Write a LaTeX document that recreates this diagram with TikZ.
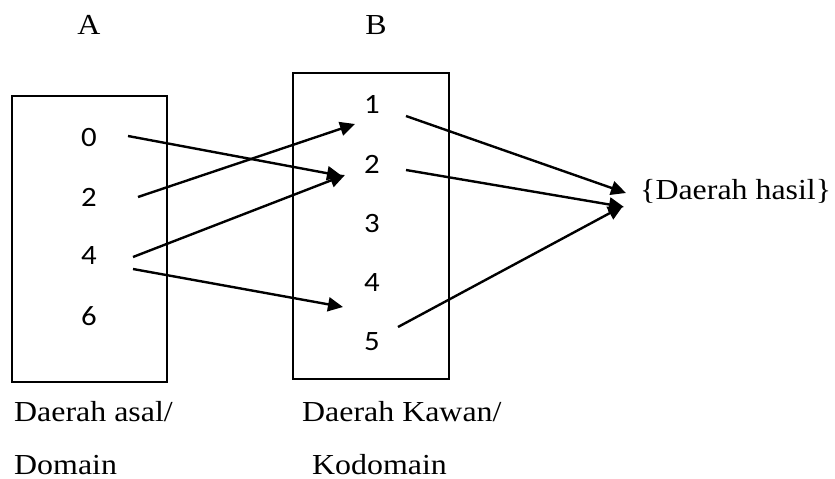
\documentclass[tikz,border=0pt]{standalone}
\usepackage{fontspec}
\setmainfont{Liberation Serif}
\newfontfamily\numfont{Carlito}
\usetikzlibrary{arrows.meta}
\newcommand{\wider}[1]{\scalebox{1.1}[1]{#1}}
\begin{document}
\begin{tikzpicture}[x=1pt,y=-1pt,
  setbox/.style={draw,line width=2.3pt},
  num/.style={font=\numfont\fontsize{28}{32}\selectfont,inner sep=0pt},
  lab/.style={font=\fontsize{29}{34}\selectfont,inner sep=0pt},
  arr/.style={line width=2.4pt,-{Triangle[length=15pt,width=14pt]}}]
\useasboundingbox[fill=white] (0,0) rectangle (835,479);
% boxes
\draw[setbox] (12,96) rectangle (167,382);
\draw[setbox] (293,73) rectangle (449,379);
% titles
\node[lab,anchor=base] (tA) at (89,34) {\wider{A}};
\node[lab,anchor=base] (tB) at (376,34) {\wider{B}};
% domain elements
\node[num] (a0) at (89,138) {\wider{0}};
\node[num] (a2) at (89,197) {\wider{2}};
\node[num] (a4) at (89,256) {\wider{4}};
\node[num] (a6) at (89,316) {\wider{6}};
% codomain elements
\node[num] (b1) at (372,104) {\wider{1}};
\node[num] (b2) at (372,164) {\wider{2}};
\node[num] (b3) at (372,224) {\wider{3}};
\node[num] (b4) at (372,283) {\wider{4}};
\node[num] (b5) at (372,342) {\wider{5}};
% range
\node[lab,anchor=base west] (h) at (640,199) {\wider{\{Daerah hasil\}}};
% bottom labels
\node[lab,anchor=base west] (d1) at (14,421) {\wider{Daerah asal/}};
\node[lab,anchor=base west] (d2) at (14,474) {\wider{Domain}};
\node[lab,anchor=base west] (k1) at (302,421) {\wider{Daerah Kawan/}};
\node[lab,anchor=base west] (k2) at (312,474) {\wider{Kodomain}};
% connector end points
\coordinate (s0) at (128,136);
\coordinate (s2) at (138,197);
\coordinate (s4a) at (133,257);
\coordinate (s4b) at (133,269);
\coordinate (e1) at (355,124);
\coordinate (e2a) at (342,176);
\coordinate (e2b) at (345,175);
\coordinate (e4) at (343,307);
\coordinate (t1) at (406,116);
\coordinate (t2) at (406,170);
\coordinate (t5) at (398,327);
\coordinate (h1) at (626,193);
\coordinate (h2) at (624,207);
\coordinate (h3) at (623,206);
% arrows
\draw[arr] (s0) -- (e2a);
\draw[arr] (s2) -- (e1);
\draw[arr] (s4a) -- (e2b);
\draw[arr] (s4b) -- (e4);
\draw[arr] (t1) -- (h1);
\draw[arr] (t2) -- (h2);
\draw[arr] (t5) -- (h3);
\end{tikzpicture}
\end{document}
